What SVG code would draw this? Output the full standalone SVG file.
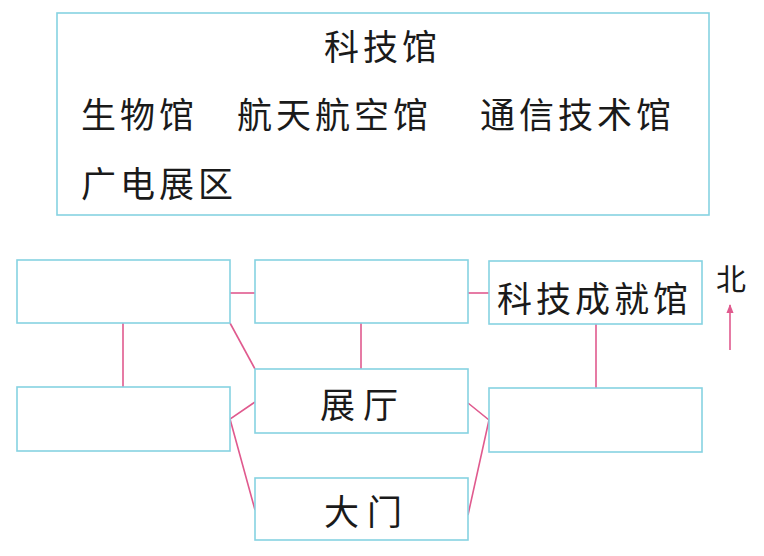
<svg xmlns="http://www.w3.org/2000/svg" width="764" height="556" viewBox="0 0 764 556">
<defs>
<style>
.box{fill:#ffffff;stroke:#86d3e2;stroke-width:1.6}
.ln{stroke:#e05a8e;stroke-width:1.6;fill:none}
.t{font-family:"Noto Sans CJK SC","Noto Sans CJK TC",sans-serif;font-size:35px;fill:#1a1a1a;letter-spacing:4px}
</style>
<marker id="ah" viewBox="0 0 10 10" refX="9" refY="5" markerWidth="9" markerHeight="9" orient="auto" markerUnits="userSpaceOnUse">
<path d="M0,1 L10,5 L0,9 z" fill="#e05a8e"/>
</marker>
</defs>
<rect width="764" height="556" fill="#ffffff"/>
<g id="kejiguan">
<rect class="box" x="57" y="13" width="652" height="202"/>
<text class="t" x="324" y="60">科技馆</text>
<text class="t" x="81" y="128">生物馆</text>
<text class="t" x="237" y="128">航天航空馆</text>
<text class="t" x="480" y="128">通信技术馆</text>
<text class="t" x="81" y="197">广电展区</text>
</g>
<g id="connectors">
<line class="ln" x1="230" y1="293" x2="255" y2="293"/>
<line class="ln" x1="468" y1="293" x2="489" y2="293"/>
<line class="ln" x1="123" y1="323" x2="123" y2="387"/>
<line class="ln" x1="361" y1="323" x2="361" y2="369"/>
<line class="ln" x1="596" y1="324" x2="596" y2="388"/>
<line class="ln" x1="230" y1="323" x2="255" y2="369"/>
<polyline class="ln" points="255,402 230,419 255,510"/>
<polyline class="ln" points="468,403 489,420 468,515"/>
</g>
<g id="box1"><rect class="box" x="17" y="260" width="213" height="63"/></g>
<g id="box2"><rect class="box" x="255" y="260" width="213" height="63"/></g>
<g id="kejichengjiuguan"><rect class="box" x="489" y="261" width="213" height="63"/>
<text class="t" x="497" y="312">科技成就馆</text></g>
<g id="box4"><rect class="box" x="17" y="387" width="213" height="64"/></g>
<g id="zhanting"><rect class="box" x="255" y="369" width="213" height="64"/>
<text class="t" x="363" y="418" text-anchor="middle" style="letter-spacing:8px">展厅</text></g>
<g id="box5"><rect class="box" x="489" y="388" width="213" height="64"/></g>
<g id="damen"><rect class="box" x="255" y="478" width="213" height="62"/>
<text class="t" x="367" y="525" text-anchor="middle" style="letter-spacing:8px">大门</text></g>
<g id="north">
<text class="t" x="731" y="290" text-anchor="middle" style="font-size:30px;letter-spacing:0">北</text>
<line class="ln" x1="730" y1="350" x2="730" y2="305" marker-end="url(#ah)"/>
</g>
</svg>
